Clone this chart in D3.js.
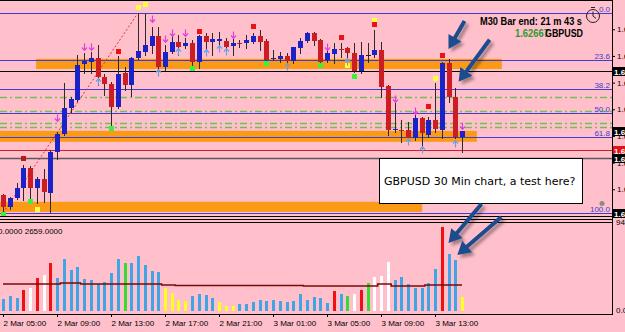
<!DOCTYPE html>
<html>
<head>
<meta charset="utf-8">
<script src="https://cdn.jsdelivr.net/npm/d3@7"></script>
<style>
  html, body { margin: 0; padding: 0; background: #ffc0cb; overflow: hidden; }
  svg { display: block; }
</style>
</head>
<body>
<div id="chart"></div>
<script>
const width = 625, height = 332;

// 30 min bars, bar 0 = 2 Mar 05:00
const opens = [1.62429,1.62384,1.62418,1.62455,1.62530,1.62455,1.62489,1.62436,1.62590,1.62658,
  1.62755,1.62785,1.62920,1.62928,1.62943,1.62871,1.62845,1.62759,1.62886,1.62841,
  1.62943,1.62965,1.62988,1.63025,1.62909,1.62965,1.63003,1.62988,1.62999,1.62928,
  1.63025,1.63003,1.63006,1.63006,1.62988,1.62999,1.62999,1.63003,1.63025,1.63006,
  1.62939,1.62939,1.62950,1.62931,1.62980,1.63006,1.63036,1.63010,1.62935,1.62958,
  1.62976,1.62980,1.62961,1.62894,1.62954,1.62954,1.62973,1.62838,1.62673,1.62673,
  1.62673,1.62643,1.62718,1.62654,1.62710,1.62673,1.62924,1.62796,1.62646];
const highs = [1.62433,1.62421,1.62474,1.62541,1.62538,1.62496,1.62526,1.62598,1.62665,1.62849,
  1.62796,1.62954,1.62961,1.62965,1.62991,1.62883,1.62853,1.62950,1.62909,1.62946,
  1.63111,1.63108,1.63059,1.63059,1.62991,1.63029,1.63029,1.63018,1.63010,1.63029,
  1.63036,1.63036,1.63040,1.63018,1.63014,1.63010,1.63029,1.63036,1.63048,1.63014,
  1.62973,1.62965,1.62961,1.62984,1.63018,1.63040,1.63040,1.63014,1.62973,1.62999,
  1.62999,1.62984,1.62999,1.63003,1.62999,1.63048,1.63003,1.62841,1.62774,1.62710,
  1.62703,1.62729,1.62721,1.62721,1.62849,1.62928,1.62939,1.62830,1.62665];
const lows = [1.62365,1.62376,1.62414,1.62410,1.62418,1.62399,1.62403,1.62365,1.62564,1.62654,
  1.62740,1.62781,1.62886,1.62886,1.62841,1.62804,1.62684,1.62755,1.62823,1.62800,
  1.62939,1.62954,1.62961,1.62879,1.62898,1.62961,1.62954,1.62980,1.62916,1.62905,
  1.62965,1.62954,1.62984,1.62961,1.62954,1.62984,1.62980,1.62999,1.62973,1.62931,
  1.62935,1.62928,1.62924,1.62924,1.62961,1.63003,1.62991,1.62924,1.62928,1.62924,
  1.62946,1.62928,1.62890,1.62886,1.62928,1.62946,1.62796,1.62654,1.62665,1.62628,
  1.62635,1.62635,1.62609,1.62646,1.62665,1.62643,1.62778,1.62643,1.62590];
const closes = [1.62384,1.62418,1.62455,1.62530,1.62455,1.62489,1.62440,1.62590,1.62658,1.62755,
  1.62789,1.62916,1.62931,1.62943,1.62871,1.62845,1.62759,1.62883,1.62841,1.62943,
  1.62969,1.62991,1.63025,1.62909,1.62965,1.63003,1.62984,1.62999,1.62928,1.63025,
  1.63003,1.63014,1.63014,1.62984,1.62999,1.62995,1.63010,1.63025,1.63003,1.62935,
  1.62943,1.62950,1.62931,1.62984,1.63006,1.63036,1.63006,1.62928,1.62961,1.62976,
  1.62973,1.62961,1.62894,1.62954,1.62954,1.62973,1.62834,1.62673,1.62676,1.62669,
  1.62643,1.62718,1.62661,1.62710,1.62676,1.62924,1.62796,1.62646,1.62667];

const volumes = [1278,1598,1385,2237,2450,3515,3834,5112,3515,5538,
  4367,4686,3408,3302,2876,3089,4047,5538,5112,5112,
  5858,4899,4260,4154,2450,1917,1172,1065,1598,1811,
  1704,1385,959,533,533,746,746,959,1172,1065,
  1172,1065,959,1065,1811,1172,1491,1385,852,2130,
  1811,1598,1811,2237,2982,3621,3728,5219,3302,3621,
  2876,2450,2450,2982,4473,8946,6071,5432,1491];
// b normal, r climax, w churn, g climax+churn, y low volume
const volTypes = ["b","b","b","r","w","r","w","r","b","b",
  "b","b","b","b","b","b","b","b","g","b",
  "b","b","b","b","y","y","y","y","b","b",
  "b","b","y","y","y","b","b","b","b","b",
  "b","b","b","b","b","b","b","b","b","r",
  "b","g","w","r","g","w","w","w","b","b",
  "b","b","b","b","b","r","b","b","y"];
const volAvg = [2876,2876,2876,2876,2876,2876,2876,2876,2876,2982,
  2982,2982,2876,2876,2876,2876,2876,2876,2876,2876,
  2876,2876,2876,2876,2769,2769,2716,2716,2716,2716,
  2716,2716,2716,2716,2716,2716,2716,2716,2716,2716,
  2716,2716,2716,2716,2716,2663,2663,2663,2663,2663,
  2663,2663,2663,2663,2663,2663,2876,2876,2663,2663,
  2663,2663,2663,2769,2769,2769,2769,2769,2769];

const tickBars = [0, 8, 16, 24, 32, 40, 48, 56, 64];
const tickLabels = ["2 Mar 05:00", "2 Mar 09:00", "2 Mar 13:00", "2 Mar 17:00", "2 Mar 21:00",
  "3 Mar 01:00", "3 Mar 05:00", "3 Mar 09:00", "3 Mar 13:00"];
const priceTicks = [1.6245, 1.6255, 1.6265, 1.6275, 1.6285, 1.6295, 1.6305];

// fibonacci from bar 0 low to bar 20 high
const fibLow = 1.62361, fibHigh = 1.63111, fibFromBar = 0, fibToBar = 20;
const fibRatios = [0, 0.236, 0.382, 0.5, 0.618, 1];
const fibLabels = ["0.0", "23.6", "38.2", "50.0", "61.8", "100.0"];

const greenLevels = [1.62796, 1.62744, 1.62699, 1.62684];
const blackLevel = 1.62894, redLevel = 1.62598, grayLevel = 1.62568, lastPrice = 1.62667;
const tagPrices = [1.62894, 1.62667, 1.62598, 1.62568, 1.62361];
const tagRed = [false, false, true, false, false];

const zoneFrom = [4.9, -1, -1], zoneTo = [73.9, 70.2, 62.1];
const zoneHi = [1.62939, 1.62669, 1.62403], zoneLo = [1.62901, 1.62628, 1.62365];

const squareBars = [0, 3, 4, 5, 16, 17, 20, 21, 28, 29, 37, 39, 47, 50, 51, 52, 55, 55, 63, 64, 65];
const squarePrices = [1.62358, 1.62568, 1.62406, 1.62376, 1.62680, 1.62969, 1.63134, 1.63145, 1.62905, 1.63044,
  1.63063, 1.62924, 1.62916, 1.63021, 1.62916, 1.62875, 1.63085, 1.63070, 1.62763, 1.62868, 1.62954];
const squareTypes = ["g", "d", "g", "y", "g", "r", "y", "y", "g", "r", "r", "g", "g", "r", "y", "g", "y", "r", "r", "y", "r"];

const downBars = [8, 12, 13, 22, 24, 25, 27, 34, 48, 58, 61, 68];
const downPrices = [1.62718, 1.62984, 1.62984, 1.63089, 1.63014, 1.63036, 1.63036, 1.63029, 1.62984, 1.62789, 1.62744, 1.62688];
const upBars = [14, 23, 26, 30, 32, 33, 42, 51, 60, 62, 67];
const upPrices = [1.62853, 1.62886, 1.62965, 1.62961, 1.62976, 1.62965, 1.62909, 1.62928, 1.62628, 1.62598, 1.62620];

const volMax = 9480;

const svg = d3.select("#chart").append("svg")
  .attr("width", width)
  .attr("height", height)
  .style("font-family", "'Liberation Sans', Arial, sans-serif");

const defs = svg.append("defs");
defs.append("filter").attr("id", "shadow")
  .attr("x", "-50%").attr("y", "-50%").attr("width", "200%").attr("height", "200%")
  .append("feDropShadow")
  .attr("dx", 3).attr("dy", 3).attr("stdDeviation", 1.8)
  .attr("flood-color", "#000").attr("flood-opacity", 0.35);

svg.append("rect").attr("width", width).attr("height", height).attr("fill", "#ffc0cb");

const x = d3.scaleLinear().domain([0, 68]).range([3, 462]);
const y = d3.scaleLinear().domain([fibLow, fibHigh]).range([213, 13]);
const yv = d3.scaleLinear().domain([0, volMax]).range([311, 222]);

const px = i => Math.round(x(i));
const py = p => Math.round(y(p)) + 0.5;

// zones
svg.append("g").selectAll("rect")
  .data(zoneFrom)
  .join("rect")
  .attr("x", (d, i) => Math.max(0, x(d)))
  .attr("width", (d, i) => x(zoneTo[i]) - Math.max(0, x(d)))
  .attr("y", (d, i) => y(zoneHi[i]))
  .attr("height", (d, i) => y(zoneLo[i]) - y(zoneHi[i]))
  .attr("fill", "#fb9a16");

// level lines
const levels = svg.append("g");
levels.append("line").attr("x1", 0).attr("x2", 612).attr("y1", 0.5).attr("y2", 0.5).attr("stroke", "#000");
levels.selectAll(".green")
  .data(greenLevels)
  .join("line")
  .attr("x1", 0).attr("x2", 612)
  .attr("y1", d => py(d)).attr("y2", d => py(d))
  .attr("stroke", "#6fbf55").attr("stroke-width", 1.5)
  .attr("stroke-dasharray", "7,3,2,3");
levels.selectAll(".fib")
  .data(fibRatios)
  .join("line")
  .attr("x1", 0).attr("x2", 612)
  .attr("y1", d => py(fibHigh - d * (fibHigh - fibLow)))
  .attr("y2", d => py(fibHigh - d * (fibHigh - fibLow)))
  .attr("stroke", "#3d3dd0");
levels.selectAll(".fibtxt")
  .data(fibRatios)
  .join("text")
  .attr("x", 610)
  .attr("y", d => py(fibHigh - d * (fibHigh - fibLow)) - 2)
  .attr("text-anchor", "end")
  .attr("font-size", 8)
  .attr("fill", "#3d3dd0")
  .text((d, i) => fibLabels[i]);
[[blackLevel, "#000", 1], [redLevel, "#d02020", 1], [grayLevel, "#5a5a5a", 1.5]].forEach(([p, c, w]) => {
  levels.append("line").attr("x1", 0).attr("x2", 612)
    .attr("y1", py(p)).attr("y2", py(p))
    .attr("stroke", c).attr("stroke-width", w);
});
levels.append("line")
  .attr("x1", x(fibFromBar)).attr("y1", y(fibLow))
  .attr("x2", x(fibToBar)).attr("y2", y(fibHigh))
  .attr("stroke", "#e03030").attr("stroke-dasharray", "2,2");
levels.append("circle").attr("cx", 602).attr("cy", py(fibLow) - 10).attr("r", 2.5).attr("fill", "#8a8a8a");

// candles
const bars = d3.range(opens.length).map(i => ({ i, o: opens[i], h: highs[i], l: lows[i], c: closes[i] }));
const cg = svg.append("g");
cg.selectAll("line")
  .data(bars)
  .join("line")
  .attr("x1", d => px(d.i) + 0.5).attr("x2", d => px(d.i) + 0.5)
  .attr("y1", d => Math.round(y(d.h))).attr("y2", d => Math.round(y(d.l)) + 1)
  .attr("stroke", "#2a2a2a");
cg.selectAll("rect")
  .data(bars)
  .join("rect")
  .attr("x", d => px(d.i) - 2)
  .attr("width", 5)
  .attr("y", d => Math.round(y(Math.max(d.o, d.c))))
  .attr("height", d => Math.max(1, Math.round(y(Math.min(d.o, d.c))) - Math.round(y(Math.max(d.o, d.c)))))
  .attr("fill", d => d.c > d.o ? "#1a22c8" : d.c < d.o ? "#cc1c24" : "#222");

// signal squares
const sqColor = { g: "#3cf03c", r: "#ee1111", d: "#b81818", y: "#ffff40" };
svg.append("g").selectAll("rect")
  .data(squareBars)
  .join("rect")
  .attr("x", d => px(d) - 2)
  .attr("y", (d, i) => Math.round(y(squarePrices[i])) - 2)
  .attr("width", 5).attr("height", 5)
  .attr("fill", (d, i) => sqColor[squareTypes[i]]);

// fractal arrows
const ag = svg.append("g").attr("fill", "none").attr("stroke-width", 1.2);
ag.selectAll(".dn")
  .data(downBars)
  .join("path")
  .attr("transform", (d, i) => `translate(${px(d) + 0.5},${Math.round(y(downPrices[i]))})`)
  .attr("d", "M0,-3.5V3M-2.5,0.5L0,3.3L2.5,0.5")
  .attr("stroke", "#e23ce2");
ag.selectAll(".up")
  .data(upBars)
  .join("path")
  .attr("transform", (d, i) => `translate(${px(d) + 0.5},${Math.round(y(upPrices[i]))})`)
  .attr("d", "M0,3.5V-3M-2.5,-0.5L0,-3.3L2.5,-0.5")
  .attr("stroke", (d) => d === 42 ? "#8a9ab0" : "#6a9ee8");

// lower pane
const vg = svg.append("g");
vg.selectAll("rect")
  .data(volumes)
  .join("rect")
  .attr("x", (d, i) => px(i) - 1)
  .attr("width", 3)
  .attr("y", d => yv(d))
  .attr("height", d => yv(0) - yv(d))
  .attr("fill", (d, i) => ({ b: "#3ea6e6", r: "#ee1111", w: "#ffffff", g: "#33dd33", y: "#ffff22" })[volTypes[i]]);
vg.append("path")
  .datum(volAvg)
  .attr("d", d3.line().x((d, i) => x(i)).y(d => yv(d)).curve(d3.curveStep))
  .attr("fill", "none")
  .attr("stroke", "#7a0a0a")
  .attr("stroke-width", 1.5);

// frame
const fr = svg.append("g").attr("stroke", "#000").attr("fill", "none");
[216.5, 219.5, 222.5, 314.5].forEach(v => fr.append("line").attr("x1", 0).attr("x2", 612).attr("y1", v).attr("y2", v));
fr.append("line").attr("x1", 612.5).attr("x2", 612.5).attr("y1", 0).attr("y2", 315);

// axes
const yAxis = svg.append("g")
  .attr("transform", "translate(612,0)")
  .call(d3.axisRight(y).tickValues(priceTicks).tickFormat(d3.format(".4f")).tickSize(3).tickPadding(2));
yAxis.select(".domain").remove();
yAxis.selectAll("text").attr("font-size", 8).attr("font-family", "'Liberation Sans', Arial, sans-serif");

const xAxis = svg.append("g")
  .attr("transform", "translate(0,314)")
  .call(d3.axisBottom(x).tickValues(tickBars).tickFormat((d, i) => tickLabels[i]).tickSize(3).tickPadding(3));
xAxis.select(".domain").remove();
xAxis.selectAll("text")
  .attr("text-anchor", "start")
  .attr("font-size", 8)
  .attr("font-family", "'Liberation Sans', Arial, sans-serif");

// price tags
const tg = svg.append("g");
tg.selectAll("rect")
  .data(tagPrices)
  .join("rect")
  .attr("x", 613).attr("width", 12)
  .attr("y", d => Math.round(y(d)) - 4).attr("height", 9)
  .attr("fill", (d, i) => tagRed[i] ? "#e81010" : "#000");
tg.selectAll("text")
  .data(tagPrices)
  .join("text")
  .attr("x", 614)
  .attr("y", d => Math.round(y(d)) + 3.5)
  .attr("font-size", 8).attr("font-weight", "bold")
  .attr("fill", "#fff")
  .text(d => d3.format(".4f")(d));

svg.append("text").attr("x", 616).attr("y", yv(volMax) + 3).attr("font-size", 8).text(volMax);
svg.append("text").attr("x", 616).attr("y", yv(0) + 2).attr("font-size", 8).text("0.00");
svg.append("text").attr("x", -2).attr("y", 234).attr("font-size", 8)
  .text(`0.0000 ${d3.format(".4f")(volAvg[volAvg.length - 1] - 110)}`);

// info text
svg.append("text").attr("x", 480).attr("y", 25)
  .attr("font-size", 11).attr("font-weight", "bold")
  .attr("textLength", 102).attr("lengthAdjust", "spacingAndGlyphs")
  .text("M30 Bar end: 21 m 43 s");
svg.append("text").attr("x", 515).attr("y", 37)
  .attr("font-size", 11).attr("font-weight", "bold").attr("fill", "#2f9a2f")
  .attr("textLength", 34).attr("lengthAdjust", "spacingAndGlyphs")
  .text(d3.format(".5f")(lastPrice));
svg.append("text").attr("x", 545).attr("y", 37)
  .attr("font-size", 11).attr("font-weight", "bold")
  .attr("textLength", 38).attr("lengthAdjust", "spacingAndGlyphs")
  .text("GBPUSD");

const clock = svg.append("g").attr("transform", "translate(593,16)").attr("stroke", "#222").attr("fill", "none");
clock.append("circle").attr("r", 6.5);
clock.append("path").attr("d", "M0,0V-4.5M0,0L3,2.5M-2,-8.5H2");

// note box
svg.append("rect").attr("x", 379.5).attr("y", 158.5).attr("width", 203).attr("height", 45)
  .attr("fill", "#fff").attr("stroke", "#000");
svg.append("text").attr("x", 384).attr("y", 185)
  .attr("font-family", "'DejaVu Sans', sans-serif").attr("font-size", 11)
  .text("GBPUSD 30 Min chart, a test here?");

// callout arrows
function arrowPath(x1, y1, x2, y2) {
  const w = 4, hl = 13, hw = 7.5;
  const len = Math.hypot(x2 - x1, y2 - y1), ux = (x2 - x1) / len, uy = (y2 - y1) / len;
  const nx = -uy, ny = ux, bx = x2 - ux * hl, by = y2 - uy * hl;
  const p = [
    [x1 + nx * w / 2, y1 + ny * w / 2], [bx + nx * w / 2, by + ny * w / 2], [bx + nx * hw, by + ny * hw],
    [x2, y2], [bx - nx * hw, by - ny * hw], [bx - nx * w / 2, by - ny * w / 2], [x1 - nx * w / 2, y1 - ny * w / 2]
  ];
  return "M" + p.map(q => q.join(",")).join("L") + "Z";
}
const callouts = [
  { tx: x(66), ty: y(1.62976), dx: 16, dy: -28 },
  { tx: x(67.5), ty: y(1.62853), dx: 31, dy: -42 },
  { tx: x(66), ty: yv(7243), dx: 33, dy: -39 },
  { tx: x(67.3), ty: yv(5965), dx: 44, dy: -38 }
];
svg.append("g").attr("filter", "url(#shadow)")
  .selectAll("path")
  .data(callouts)
  .join("path")
  .attr("d", d => arrowPath(d.tx + d.dx, d.ty + d.dy, d.tx, d.ty))
  .attr("fill", "#1e4b8e");
</script>
</body>
</html>
